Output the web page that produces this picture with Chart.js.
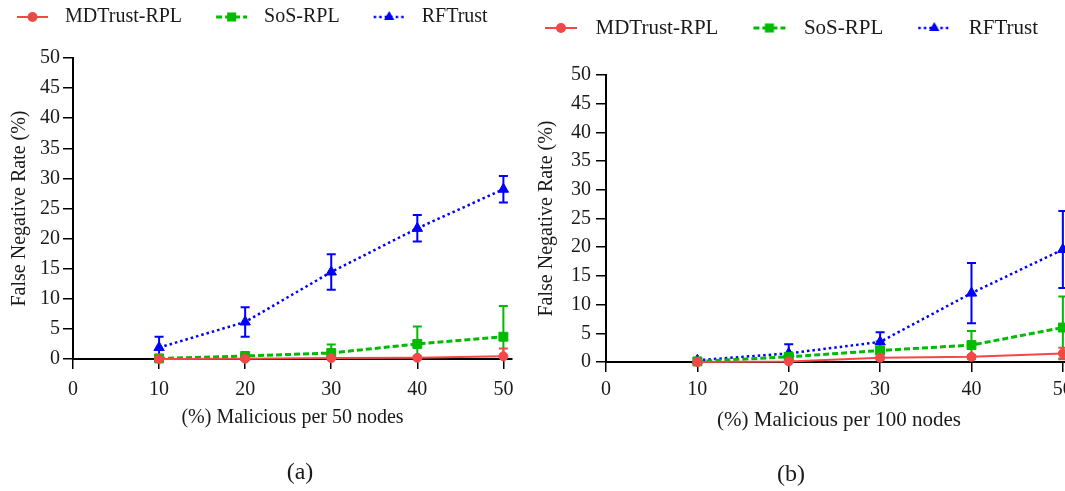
<!doctype html>
<html lang="en">
<head>
<meta charset="utf-8">
<title>False Negative Rate</title>
<script src="https://cdn.jsdelivr.net/npm/chart.js@4.4.1/dist/chart.umd.min.js"></script>
<style>
  html, body { margin: 0; padding: 0; background: #fff; overflow: hidden; }
  #wrap { position: relative; width: 1065px; height: 491px; overflow: hidden; }
  canvas { position: absolute; top: 0; }
</style>
</head>
<body>
<div id="wrap">
  <canvas id="chartA" width="634" height="491" style="left:-17px"></canvas>
  <canvas id="chartB" width="562" height="491" style="left:510px"></canvas>
</div>
<script>
// x positions and axis ticks (shared by both panels)
var xValues = [10, 20, 30, 40, 50];
var xTicks = [0, 10, 20, 30, 40, 50];
var seriesNames = ['MDTrust-RPL', 'SoS-RPL', 'RFTrust'];

// panel (a): 50 nodes
var mdA     = [0, 0.05, 0.15, 0.2, 0.45];
var mdAErr  = [0, 0, 0, 0.2, 1.3];
var sosA    = [0.1, 0.5, 1.0, 2.5, 3.7];
var sosAErr = [0, 0.3, 1.4, 2.9, 5.1];
var rfA     = [1.9, 6.15, 14.45, 21.7, 28.2];
var rfAErr  = [1.8, 2.45, 2.95, 2.2, 2.2];

// panel (b): 100 nodes
var mdB     = [0, 0.1, 0.75, 0.9, 1.5];
var mdBErr  = [0, 0, 0, 0.3, 1.0];
var sosB    = [0.1, 0.9, 2.0, 2.95, 6.0];
var sosBErr = [0, 0.3, 1.6, 2.45, 5.4];
var rfB     = [0.3, 1.5, 3.5, 12.0, 19.6];
var rfBErr  = [0.3, 1.6, 1.7, 5.25, 6.7];

var FONT = '"Liberation Serif", "Times New Roman", serif';
var TEXT = '#1a1a1a';
var colors = ['#f44848', '#00bb00', '#0000ff'];
var looks = [
  {pointStyle: 'circle',   radius: 4.5, width: 2,   dash: []},
  {pointStyle: 'rect',     radius: 6.3, width: 3,   dash: [6, 3]},
  {pointStyle: 'triangle', radius: 6,   width: 2.5, dash: [2.5, 3]}
];

function toPoints(vals) {
  return vals.map(function(v, i) { return {x: xValues[i], y: v}; });
}

// little line+marker image used as legend key
function legendKey(i, boxW, from, to) {
  var c = document.createElement('canvas');
  c.width = boxW; c.height = 16;
  var ctx = c.getContext('2d');
  var s = looks[i], cx = (from + to) / 2, cy = 8, r = s.radius;
  ctx.strokeStyle = colors[i];
  ctx.fillStyle = colors[i];
  ctx.lineWidth = s.width;
  ctx.setLineDash(s.dash);
  ctx.beginPath(); ctx.moveTo(from, cy); ctx.lineTo(to, cy); ctx.stroke();
  ctx.setLineDash([]);
  ctx.beginPath();
  if (s.pointStyle == 'circle') ctx.arc(cx, cy, r + 0.5, 0, Math.PI * 2);
  else if (s.pointStyle == 'rect') ctx.rect(cx - r * 0.72, cy - r * 0.72, r * 1.44, r * 1.44);
  else {
    ctx.moveTo(cx, cy - r);
    ctx.lineTo(cx + r * 0.87, cy + r * 0.5);
    ctx.lineTo(cx - r * 0.87, cy + r * 0.5);
    ctx.closePath();
  }
  ctx.fill();
  return c;
}

// vertical error bars with caps, drawn under the markers
var errorBars = {
  id: 'errorBars',
  beforeDatasetsDraw: function(chart) {
    var ctx = chart.ctx, xs = chart.scales.x, ys = chart.scales.y, area = chart.chartArea;
    ctx.save();
    ctx.beginPath();
    ctx.rect(area.left - 10, area.top - 10, area.right - area.left + 20, area.bottom - area.top + 10);
    ctx.clip();
    for (var d = chart.data.datasets.length - 1; d >= 0; d--) {
      var ds = chart.data.datasets[d];
      ctx.strokeStyle = ds.borderColor;
      ctx.lineWidth = 2;
      ds.data.forEach(function(p, j) {
        var e = ds.errors[j];
        if (!e) return;
        var px = xs.getPixelForValue(p.x);
        var top = ys.getPixelForValue(p.y + e);
        var bot = ys.getPixelForValue(p.y - e);
        ctx.beginPath();
        ctx.moveTo(px, top); ctx.lineTo(px, bot);
        ctx.moveTo(px - 4.5, top); ctx.lineTo(px + 4.5, top);
        ctx.moveTo(px - 4.5, bot); ctx.lineTo(px + 4.5, bot);
        ctx.stroke();
      });
    }
    ctx.restore();
  }
};

// extra room between legend and plot
function legendGap(px) {
  return {
    id: 'legendGap',
    beforeInit: function(chart) {
      var fit = chart.legend.fit;
      chart.legend.fit = function() {
        fit.bind(chart.legend)();
        this.height += px;
      };
    }
  };
}

function makeDataset(i, vals, errs) {
  var s = looks[i];
  return {
    label: seriesNames[i],
    data: toPoints(vals),
    errors: errs,
    borderColor: colors[i],
    backgroundColor: colors[i],
    borderWidth: s.width,
    borderDash: s.dash,
    pointStyle: s.pointStyle,
    pointRadius: s.radius,
    pointBackgroundColor: colors[i],
    pointBorderColor: colors[i],
    pointBorderWidth: 1,
    tension: 0,
    fill: false,
    clip: false
  };
}

function drawPanel(id, p) {
  var keys = [0, 1, 2].map(function(i) { return legendKey(i, p.keyW, p.lineFrom, p.lineTo); });
  var scales = {
    x: {
      type: 'linear', min: 0, max: 51,
      afterBuildTicks: function(s) { s.ticks = xTicks.map(function(v) { return {value: v}; }); },
      afterFit: function(s) {
        s.height = p.xAxisH;
        // let the last label run off the edge instead of shrinking the plot
        s.paddingRight = 0;
      },
      grid: {display: true, drawOnChartArea: false, drawTicks: true, tickLength: 10, color: '#000', lineWidth: 1.5},
      border: {display: true, color: '#000', width: 2},
      ticks: {color: TEXT, padding: p.xTickPad, maxRotation: 0, autoSkip: false, font: {family: FONT, size: 20}},
      title: {display: true, text: p.xTitle, color: TEXT, font: {family: FONT, size: p.xTitleSize}, padding: {top: 0, bottom: p.xTitlePad}}
    },
    y: {
      type: 'linear', min: 0, max: 50,
      afterFit: function(s) { s.width = p.yAxisW; },
      grid: {display: true, drawOnChartArea: false, drawTicks: true, tickLength: 10, color: '#000', lineWidth: 1.5},
      border: {display: true, color: '#000', width: 2},
      ticks: {stepSize: 5, color: TEXT, padding: p.yTickPad, font: {family: FONT, size: 20}},
      title: {display: true, text: 'False Negative Rate (%)', color: TEXT, font: {family: FONT, size: 20}, padding: {top: 24.5, bottom: 0}}
    }
  };
  if (p.rightPad) {
    // empty spacer on the right so the caption sits where it should
    scales.spacer = {
      type: 'linear', position: 'right', display: true,
      grid: {display: false}, border: {display: false}, ticks: {display: false},
      afterFit: function(s) { s.width = p.rightPad; }
    };
  }

  return new Chart(document.getElementById(id), {
    type: 'line',
    data: {
      datasets: [
        makeDataset(0, p.md, p.mdErr),
        makeDataset(1, p.sos, p.sosErr),
        makeDataset(2, p.rf, p.rfErr)
      ]
    },
    options: {
      responsive: false,
      animation: false,
      layout: {autoPadding: false, padding: {top: p.padTop, left: 0, right: 0, bottom: 0}},
      scales: scales,
      plugins: {
        tooltip: {enabled: false},
        legend: {
          display: true, position: 'top', align: 'start',
          labels: {
            usePointStyle: true, pointStyleWidth: p.keyW, padding: 7, color: TEXT,
            font: {family: FONT, size: p.legendSize},
            generateLabels: function(chart) {
              return chart.data.datasets.map(function(ds, i) {
                return {text: ds.label, pointStyle: keys[i], datasetIndex: i, fontColor: TEXT,
                        hidden: false, lineWidth: 0, strokeStyle: 'rgba(0,0,0,0)', fillStyle: 'rgba(0,0,0,0)'};
              });
            }
          }
        },
        title: {
          display: true, text: p.caption, position: 'bottom', color: TEXT,
          font: {family: FONT, size: 24, weight: 'normal'},
          padding: {top: 0, bottom: p.capPad}
        }
      }
    },
    plugins: [errorBars, legendGap(p.legendGap)]
  });
}

drawPanel('chartA', {
  md: mdA, mdErr: mdAErr, sos: sosA, sosErr: sosAErr, rf: rfA, rfErr: rfAErr,
  xTitle: '(%) Malicious per 50 nodes', xTitleSize: 20, caption: '(a)',
  padTop: 0, legendGap: 21, legendSize: 20, keyW: 65, lineFrom: 27, lineTo: 58,
  yAxisW: 90, yTickPad: 3, rightPad: 105,
  xAxisH: 99.6, xTickPad: 9, xTitlePad: 28.6, capPad: 3.6
});

drawPanel('chartB', {
  md: mdB, mdErr: mdBErr, sos: sosB, sosErr: sosBErr, rf: rfB, rfErr: rfBErr,
  xTitle: '(%) Malicious per 100 nodes', xTitleSize: 21, caption: '(b)',
  padTop: 10.5, legendGap: 26.5, legendSize: 21, keyW: 68, lineFrom: 28, lineTo: 60,
  yAxisW: 96, yTickPad: 5, rightPad: 0,
  xAxisH: 98.6, xTickPad: 6, xTitlePad: 28, capPad: 1.6
});
</script>
</body>
</html>
